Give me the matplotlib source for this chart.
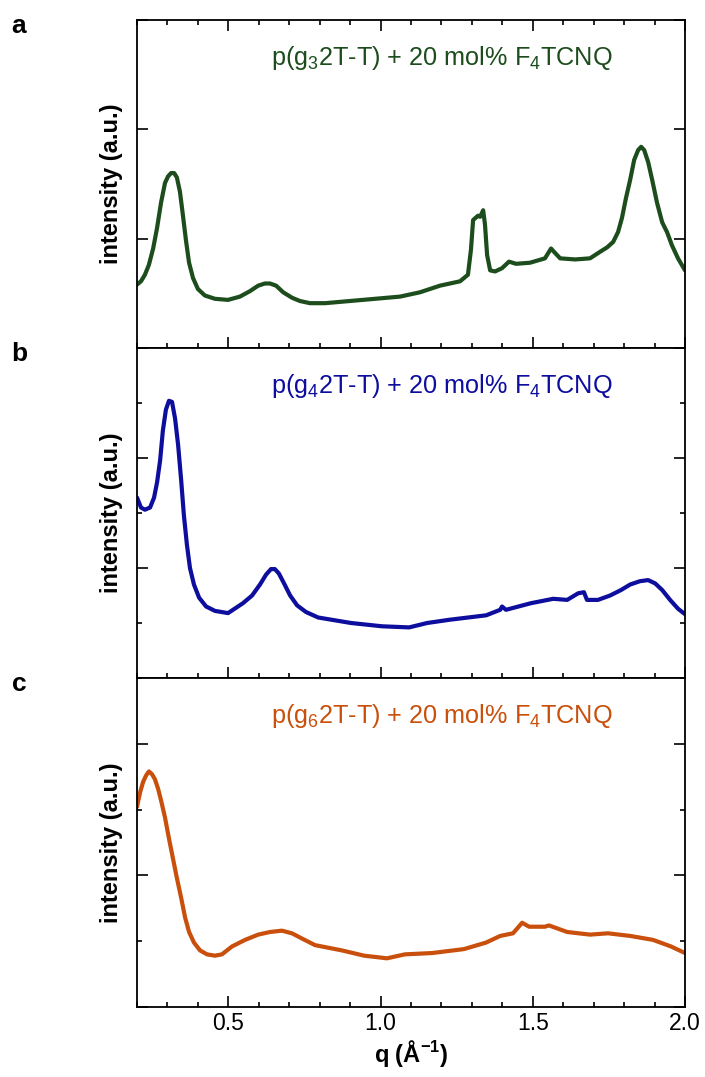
import numpy as np
import matplotlib
matplotlib.use("Agg")
import matplotlib.pyplot as plt
from matplotlib.ticker import MultipleLocator, NullLocator

plt.rcParams['font.family'] = ['Liberation Sans', 'DejaVu Sans']
plt.rcParams['mathtext.fontset'] = 'custom'
plt.rcParams['mathtext.rm'] = 'Liberation Sans'
plt.rcParams['mathtext.it'] = 'Liberation Sans'
plt.rcParams['mathtext.bf'] = 'Liberation Sans:bold'

# panel a : p(g3 2T-T) + 20 mol% F4TCNQ
q_a = [0.200, 0.213, 0.226, 0.239, 0.253, 0.266, 0.279, 0.292, 0.302, 0.312,
       0.322, 0.331, 0.341, 0.351, 0.361, 0.371, 0.384, 0.400, 0.423, 0.456,
       0.499, 0.538, 0.571, 0.598, 0.620, 0.637, 0.657, 0.680, 0.709, 0.735,
       0.768, 0.818, 0.900, 0.982, 1.064, 1.130, 1.195, 1.261, 1.287,
       1.297, 1.304, 1.320, 1.327, 1.337, 1.343, 1.350, 1.360, 1.376, 1.399,
       1.422, 1.445, 1.491, 1.540, 1.560, 1.573, 1.590, 1.639, 1.688, 1.721,
       1.744, 1.764, 1.780, 1.793, 1.806, 1.820, 1.833, 1.846, 1.856, 1.866,
       1.879, 1.892, 1.908, 1.925, 1.941, 1.957, 1.977, 2.000]
I_a = [0.58, 0.61, 0.67, 0.76, 0.91, 1.10, 1.33, 1.51, 1.57, 1.60,
       1.60, 1.56, 1.43, 1.21, 0.98, 0.78, 0.64, 0.54, 0.48, 0.45,
       0.44, 0.47, 0.52, 0.57, 0.59, 0.59, 0.57, 0.51, 0.46, 0.43,
       0.41, 0.41, 0.43, 0.45, 0.47, 0.51, 0.57, 0.61, 0.67,
       0.90, 1.17, 1.21, 1.20, 1.26, 1.13, 0.85, 0.71, 0.70, 0.73,
       0.79, 0.77, 0.78, 0.82, 0.91, 0.87, 0.82, 0.81, 0.82, 0.88,
       0.92, 0.97, 1.06, 1.19, 1.37, 1.54, 1.72, 1.81, 1.84, 1.81,
       1.70, 1.54, 1.33, 1.15, 1.06, 0.94, 0.82, 0.71]

# panel b : p(g4 2T-T) + 20 mol% F4TCNQ
q_b = [0.200, 0.213, 0.226, 0.243, 0.256, 0.266, 0.276, 0.285, 0.295, 0.305,
       0.315, 0.325, 0.335, 0.345, 0.354, 0.364, 0.374, 0.387, 0.404, 0.427,
       0.456, 0.499, 0.548, 0.578, 0.604, 0.624, 0.640, 0.653, 0.666, 0.683,
       0.703, 0.726, 0.755, 0.795, 0.903, 1.005, 1.094, 1.153, 1.228, 1.347,
       1.393, 1.399, 1.412, 1.494, 1.567, 1.613, 1.649, 1.668, 1.678, 1.714,
       1.754, 1.790, 1.820, 1.852, 1.879, 1.902, 1.925, 1.951, 1.977, 2.000]
I_b = [1.64, 1.55, 1.53, 1.55, 1.64, 1.78, 1.98, 2.25, 2.44, 2.52,
       2.51, 2.36, 2.12, 1.80, 1.48, 1.21, 1.00, 0.85, 0.73, 0.65,
       0.61, 0.59, 0.68, 0.75, 0.85, 0.94, 0.99, 0.99, 0.95, 0.86,
       0.75, 0.66, 0.60, 0.55, 0.50, 0.47, 0.46, 0.50, 0.53, 0.57,
       0.62, 0.65, 0.62, 0.68, 0.72, 0.71, 0.77, 0.78, 0.71, 0.71,
       0.75, 0.80, 0.85, 0.88, 0.89, 0.86, 0.80, 0.71, 0.63, 0.58]

# panel c : p(g6 2T-T) + 20 mol% F4TCNQ
q_c = [0.200, 0.210, 0.220, 0.230, 0.239, 0.249, 0.259, 0.269, 0.279, 0.292,
       0.305, 0.318, 0.331, 0.345, 0.358, 0.371, 0.387, 0.407, 0.430, 0.456,
       0.479, 0.512, 0.555, 0.598, 0.637, 0.676, 0.709, 0.742, 0.785, 0.873,
       0.946, 1.021, 1.080, 1.169, 1.274, 1.347, 1.393, 1.435, 1.465, 1.488,
       1.540, 1.553, 1.613, 1.688, 1.747, 1.820, 1.895, 1.954, 2.000]
I_c = [1.52, 1.63, 1.71, 1.76, 1.79, 1.77, 1.73, 1.66, 1.57, 1.44,
       1.28, 1.13, 0.98, 0.83, 0.68, 0.57, 0.49, 0.43, 0.40, 0.39,
       0.40, 0.46, 0.51, 0.55, 0.57, 0.58, 0.56, 0.52, 0.47, 0.43,
       0.39, 0.37, 0.40, 0.41, 0.44, 0.49, 0.54, 0.56, 0.64, 0.61,
       0.61, 0.62, 0.57, 0.55, 0.56, 0.54, 0.51, 0.46, 0.41]

labels = [r'p(g$_3$2T-T) + 20 mol% F$_4$TCNQ',
          r'p(g$_4$2T-T) + 20 mol% F$_4$TCNQ',
          r'p(g$_6$2T-T) + 20 mol% F$_4$TCNQ']
letters = ['a', 'b', 'c']
colors = ['#1d4d1d', '#0d0d9e', '#c8500c']
ylims = [3.0, 3.0, 2.5]

fig = plt.figure(figsize=(7.05, 10.77), dpi=100)
left, width = 137 / 705, 548 / 705
boxes = [(20, 348), (348, 678), (678, 1007)]

data = [(q_a, I_a), (q_b, I_b), (q_c, I_c)]
for i, (top, bot) in enumerate(boxes):
    ax = fig.add_axes([left, 1 - bot / 1077, width, (bot - top) / 1077])
    q, I = data[i]
    ax.plot(q, I, color=colors[i], lw=3.0, solid_joinstyle='round',
            solid_capstyle='round')
    ax.set_xlim(0.2, 2.0)
    ax.set_ylim(0, ylims[i])
    ax.xaxis.set_major_locator(MultipleLocator(0.5))
    ax.xaxis.set_minor_locator(MultipleLocator(0.1))
    ax.yaxis.set_major_locator(MultipleLocator(1.0))
    if i == 0:
        ax.yaxis.set_minor_locator(NullLocator())
    else:
        ax.yaxis.set_minor_locator(MultipleLocator(0.5))
    ax.tick_params(which='both', direction='in', left=True, right=True,
                   bottom=True, top=(i == 0), labelleft=False,
                   labelbottom=(i == 2), width=1.2, labelsize=16.5)
    ax.tick_params(which='major', length=8)
    ax.tick_params(which='minor', length=3.8)
    for s in ax.spines.values():
        s.set_linewidth(1.3)
    ax.set_ylabel('intensity (a.u.)', fontsize=17, fontweight='bold',
                  labelpad=10)
    ax.text(0.245, 0.885, labels[i], transform=ax.transAxes, color=colors[i],
            fontsize=18.2, ha='left', va='center')
    fig.text(19 / 705, 1 - (top + 6) / 1077, letters[i], fontsize=19,
             fontweight='bold', ha='center', va='center')
    if i == 2:
        ax.set_xticklabels([f'{v:.1f}' for v in ax.get_xticks()])
        ax.set_xlabel(r'q (Å$^{\mathbf{-1}}$)', fontsize=17,
                      fontweight='bold', labelpad=2)

fig.savefig('out.png', dpi=100)
